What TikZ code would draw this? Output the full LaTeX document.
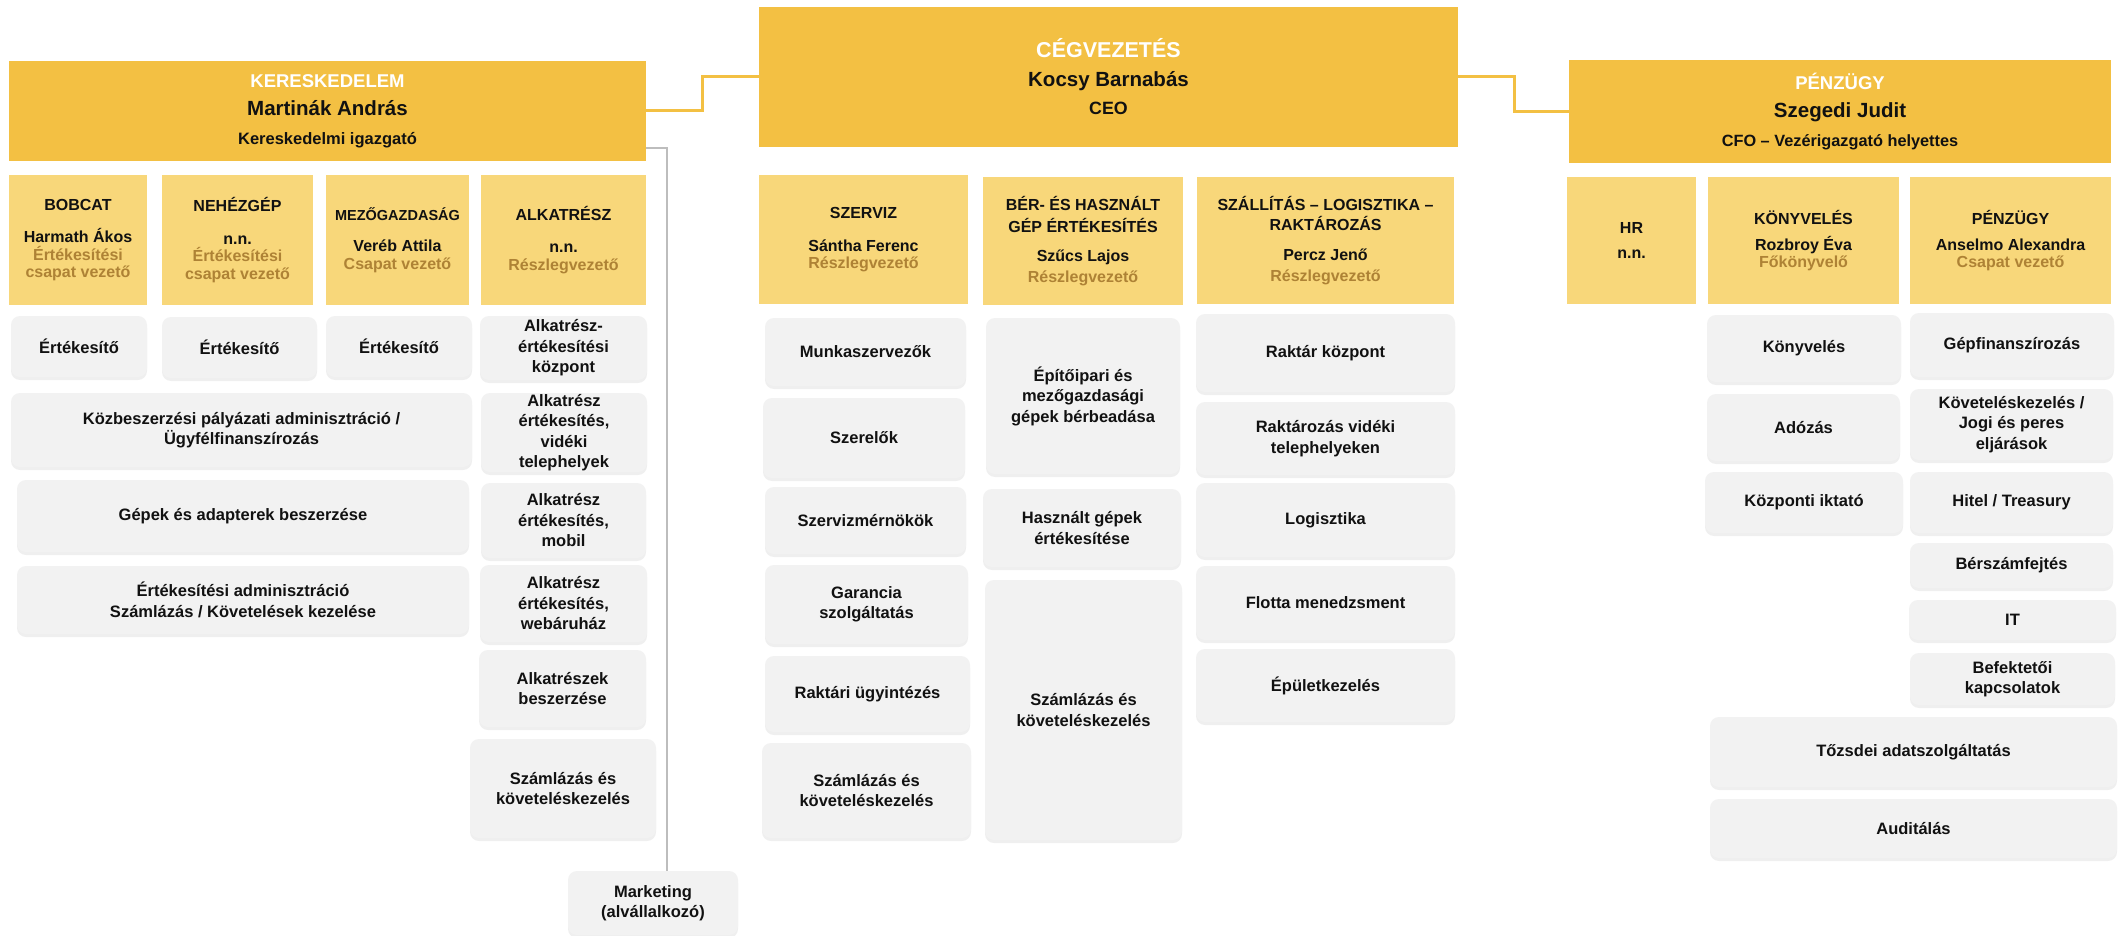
\documentclass[tikz,border=0pt]{standalone}
\usepackage{fontspec}
\setmainfont{Liberation Sans}
\usetikzlibrary{shadows}
\definecolor{hdr}{HTML}{F3C043}
\definecolor{subc}{HTML}{F8D77A}
\definecolor{gbx}{HTML}{F2F2F2}
\definecolor{role}{HTML}{AE8235}
\definecolor{txt}{HTML}{111111}
\definecolor{gln}{HTML}{BDBDBD}
\newcommand\bx[7]{\node[#1,minimum width={#5-#3},minimum height={#6-#4}] (#2) at ({(#3+#5)/2},{(#4+#6)/2}) {#7};}
\newcommand\rl[1]{\textcolor{role}{#1}}
\newcommand\wt[1]{\textcolor{white}{#1}}
\begin{document}
\begin{tikzpicture}[x=1pt,y=-1pt,
 base/.style={inner sep=0pt,outer sep=0pt,align=center,text=txt},
 hdrbox/.style={base,fill=hdr,font=\bfseries\fontsize{18.5}{28.5}\selectfont},
 subbox/.style={base,fill=subc,font=\bfseries\fontsize{16}{17.5}\selectfont},
 grbox/.style={base,fill=gbx,rounded corners=9pt,drop shadow={shadow xshift=0pt,shadow yshift=-3pt,opacity=0.12},font=\bfseries\fontsize{16.5}{20.5}\selectfont},
 orln/.style={draw=hdr,line width=3pt},
 grln/.style={draw=gln,line width=2pt}]
\useasboundingbox[fill=white] (0,0) rectangle (2125,936);

% ---------- main headers ----------
\bx{hdrbox}{ker}{9}{61}{646}{161}{\wt{KERESKEDELEM}\\{\fontsize{20.5}{28.5}\selectfont Martinák András}\\{\fontsize{16.5}{28.5}\selectfont Kereskedelmi igazgató}}
\bx{hdrbox}{ceo}{759}{7}{1458}{147}{\wt{\fontsize{21.5}{29}\selectfont CÉGVEZETÉS}\\{\fontsize{20.5}{29}\selectfont Kocsy Barnabás}\\{\fontsize{17.8}{28}\selectfont CEO}}
\bx{hdrbox}{fin}{1569}{60}{2111}{163}{\wt{PÉNZÜGY}\\{\fontsize{20.5}{28.5}\selectfont Szegedi Judit}\\{\fontsize{16.3}{28.5}\selectfont CFO – Vezérigazgató helyettes}}

% ---------- sub headers ----------
\bx{subbox}{bob}{9}{175}{147}{305}{BOBCAT\\[15pt]Harmath Ákos\\\rl{Értékesítési}\\\rl{csapat vezető}}
\bx{subbox}{neh}{162}{175}{313}{305}{NEHÉZGÉP\\[15pt]n.n.\\\rl{Értékesítési}\\\rl{csapat vezető}}
\bx{subbox}{mez}{326}{175}{469}{305}{{\fontsize{14.5}{17.5}\selectfont MEZŐGAZDASÁG}\\[14pt]Veréb Attila\\\rl{Csapat vezető}}
\bx{subbox}{alk}{481}{175}{646}{305}{ALKATRÉSZ\\[15pt]n.n.\\\rl{Részlegvezető}}
\bx{subbox}{szv}{759}{175}{968}{304}{SZERVIZ\\[15.5pt]Sántha Ferenc\\\rl{Részlegvezető}}
\bx{subbox}{ber}{983}{177}{1183}{305}{BÉR- ÉS HASZNÁLT\\[4pt]GÉP ÉRTÉKESÍTÉS\\[12pt]Szűcs Lajos\\[3pt]\rl{Részlegvezető}}
\bx{subbox}{szl}{1197}{177}{1454}{304}{SZÁLLÍTÁS – LOGISZTIKA –\\[3pt]RAKTÁROZÁS\\[12.5pt]Percz Jenő\\[3pt]\rl{Részlegvezető}}
\bx{subbox}{hr}{1567}{177}{1696}{304}{HR\\[7.5pt]n.n.}
\bx{subbox}{kv}{1708}{177}{1899}{304}{KÖNYVELÉS\\[8.5pt]Rozbroy Éva\\\rl{Főkönyvelő}}
\bx{subbox}{pz}{1910}{177}{2111}{304}{PÉNZÜGY\\[8.5pt]Anselmo Alexandra\\\rl{Csapat vezető}}

% ---------- Kereskedelem column boxes ----------
\bx{grbox}{e1}{11}{316}{147}{377}{Értékesítő}
\bx{grbox}{e2}{162}{317}{317}{378}{Értékesítő}
\bx{grbox}{e3}{326}{316}{472}{377}{Értékesítő}
\bx{grbox}{a1}{480}{316}{647}{380}{Alkatrész-\\értékesítési\\központ}
\bx{grbox}{kozb}{11}{393}{472}{467}{Közbeszerzési pályázati adminisztráció /\\Ügyfélfinanszírozás}
\bx{grbox}{a2}{481}{393}{647}{472}{Alkatrész\\értékesítés,\\vidéki\\telephelyek}
\bx{grbox}{gep}{17}{480}{469}{552}{Gépek és adapterek beszerzése}
\bx{grbox}{a3}{481}{483}{646}{558}{Alkatrész\\értékesítés,\\mobil}
\bx{grbox}{ert}{17}{566}{469}{634}{Értékesítési adminisztráció\\Számlázás / Követelések kezelése}
\bx{grbox}{a4}{480}{565}{647}{642}{Alkatrész\\értékesítés,\\webáruház}
\bx{grbox}{a5}{479}{650}{646}{727}{Alkatrészek\\beszerzése}
\bx{grbox}{szk}{470}{739}{656}{838}{Számlázás és\\követeléskezelés}
\bx{grbox}{mkt}{568}{871}{738}{935}{Marketing\\(alvállalkozó)}

% ---------- Szerviz ----------
\bx{grbox}{sz1}{765}{318}{966}{386}{Munkaszervezők}
\bx{grbox}{sz2}{763}{398}{965}{478}{Szerelők}
\bx{grbox}{sz3}{765}{487}{966}{554}{Szervizmérnökök}
\bx{grbox}{sz4}{765}{565}{968}{644}{Garancia\\szolgáltatás}
\bx{grbox}{sz5}{765}{656}{970}{732}{Raktári ügyintézés}
\bx{grbox}{sz6}{762}{743}{971}{838}{Számlázás és\\követeléskezelés}

% ---------- Bér ----------
\bx{grbox}{b1}{986}{318}{1180}{474}{Építőipari és\\mezőgazdasági\\gépek bérbeadása}
\bx{grbox}{b2}{983}{489}{1181}{567}{Használt gépek\\értékesítése}
\bx{grbox}{b3}{985}{580}{1182}{840}{Számlázás és\\követeléskezelés}

% ---------- Szállítás ----------
\bx{grbox}{l1}{1196}{314}{1455}{392}{Raktár központ}
\bx{grbox}{l2}{1196}{402}{1455}{475}{Raktározás vidéki\\telephelyeken}
\bx{grbox}{l3}{1196}{483}{1455}{557}{Logisztika}
\bx{grbox}{l4}{1196}{566}{1455}{640}{Flotta menedzsment}
\bx{grbox}{l5}{1196}{649}{1455}{722}{Épületkezelés}

% ---------- Pénzügy ----------
\bx{grbox}{k1}{1707}{315}{1901}{382}{Könyvelés}
\bx{grbox}{k2}{1707}{394}{1900}{461}{Adózás}
\bx{grbox}{k3}{1705}{472}{1903}{533}{Központi iktató}
\bx{grbox}{p1}{1910}{313}{2114}{377}{Gépfinanszírozás}
\bx{grbox}{p2}{1910}{389}{2113}{460}{Követeléskezelés /\\Jogi és peres\\eljárások}
\bx{grbox}{p3}{1910}{472}{2113}{533}{Hitel / Treasury}
\bx{grbox}{p4}{1910}{543}{2113}{588}{Bérszámfejtés}
\bx{grbox}{p5}{1909}{600}{2116}{640}{IT}
\bx{grbox}{p6}{1910}{653}{2115}{705}{Befektetői\\kapcsolatok}
\bx{grbox}{t1}{1710}{717}{2117}{787}{Tőzsdei adatszolgáltatás}
\bx{grbox}{t2}{1710}{799}{2117}{858}{Auditálás}

% ---------- connectors ----------
\draw[orln] (ker.east) -- ++(56,0) |- (ceo.west);
\draw[orln] (ceo.east) -- ++(56,0) |- (fin.west);
\draw[grln] ([yshift=13pt]ker.south east) -| ([xshift=14pt]mkt.north);
\end{tikzpicture}
\end{document}
